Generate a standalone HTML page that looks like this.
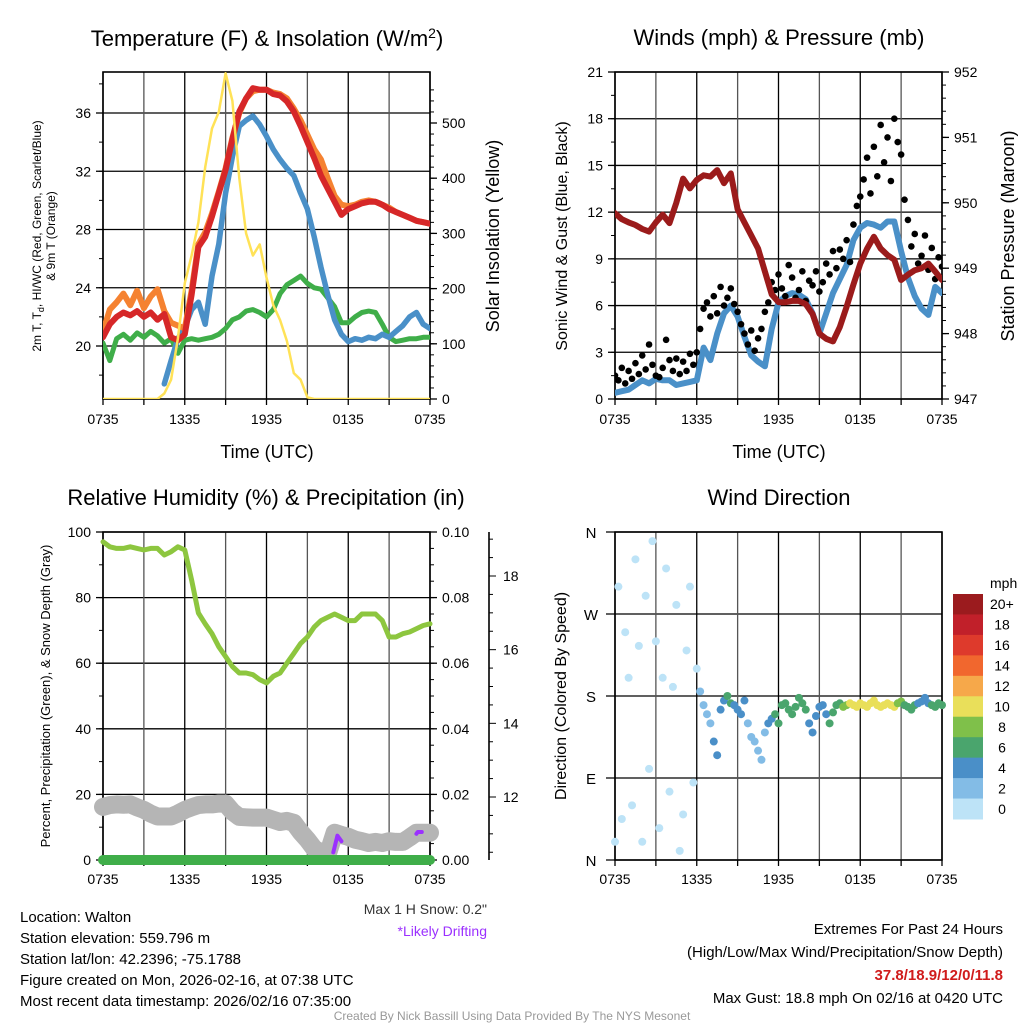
<!DOCTYPE html>
<html><head><meta charset="utf-8"><style>
html,body{margin:0;padding:0;background:#fff;}
svg{display:block;font-family:"Liberation Sans",Arial,sans-serif;}
</style></head><body>
<svg id="fig" width="1024" height="1024" viewBox="0 0 1024 1024" xmlns="http://www.w3.org/2000/svg">
<rect width="1024" height="1024" fill="#fff"/>
<g id="p1"></g>
<g id="p2"></g>
<g id="p3"></g>
<g id="p4"></g>
<text x="267" y="46" font-size="22" text-anchor="middle">Temperature (F) &amp; Insolation (W/m<tspan dy="-8" font-size="14">2</tspan><tspan dy="8">)</tspan></text>
<text x="779" y="45" font-size="22" text-anchor="middle">Winds (mph) &amp; Pressure (mb)</text>
<text x="266" y="505" font-size="22" text-anchor="middle">Relative Humidity (%) &amp; Precipitation (in)</text>
<text x="779" y="505" font-size="22" text-anchor="middle">Wind Direction</text>
<text transform="translate(41,236) rotate(-90)" font-size="12" text-anchor="middle">2m T, T<tspan font-size="9" dy="3">d</tspan><tspan dy="-3">, HI/WC (Red, Green, Scarlet/Blue)</tspan></text>
<text transform="translate(55,236) rotate(-90)" font-size="12" text-anchor="middle">&amp; 9m T (Orange)</text>
<text transform="translate(499,236) rotate(-90)" font-size="18" text-anchor="middle">Solar Insolation (Yellow)</text>
<text x="267" y="458" font-size="18" text-anchor="middle">Time (UTC)</text>
<text transform="translate(567,236) rotate(-90)" font-size="16" text-anchor="middle">Sonic Wind &amp; Gust (Blue, Black)</text>
<text transform="translate(1014,236) rotate(-90)" font-size="18" text-anchor="middle">Station Pressure (Maroon)</text>
<text x="779" y="458" font-size="18" text-anchor="middle">Time (UTC)</text>
<text transform="translate(50,696) rotate(-90)" font-size="13" text-anchor="middle">Percent, Precipitation (Green), &amp; Snow Depth (Gray)</text>
<text transform="translate(566,696) rotate(-90)" font-size="16" text-anchor="middle">Direction (Colored By Speed)</text>
<text x="487" y="914" font-size="14" text-anchor="end" fill="#333">Max 1 H Snow: 0.2"</text>
<text x="487" y="936" font-size="14" text-anchor="end" fill="#9b30ff">*Likely Drifting</text>
<g font-size="15">
<text x="20" y="922">Location: Walton</text>
<text x="20" y="943">Station elevation: 559.796 m</text>
<text x="20" y="964">Station lat/lon: 42.2396; -75.1788</text>
<text x="20" y="985">Figure created on Mon, 2026-02-16, at 07:38 UTC</text>
<text x="20" y="1006">Most recent data timestamp: 2026/02/16 07:35:00</text>
</g>
<g font-size="15" text-anchor="end">
<text x="1003" y="934">Extremes For Past 24 Hours</text>
<text x="1003" y="957">(High/Low/Max Wind/Precipitation/Snow Depth)</text>
<text x="1003" y="980" fill="#d01c1c" font-weight="bold">37.8/18.9/12/0/11.8</text>
<text x="1003" y="1003">Max Gust: 18.8 mph On 02/16 at 0420 UTC</text>
</g>
<text x="512" y="1020" font-size="12" text-anchor="middle" fill="#999">Created By Nick Bassill Using Data Provided By The NYS Mesonet</text>
</svg>
<script>
// ---- data (half-hour steps from 0735 UTC unless noted) ----
const xTickLabels = ["0735","1335","1935","0135","0735"];
const tempRed = [20.6,21.5,22,22.3,22.1,22.4,22,22.3,21.8,22.2,20.6,20.4,20.8,23.5,26.8,27.5,28.9,30.5,32.1,34.2,36.1,37,37.7,37.6,37.6,37.3,37.2,36.8,36.1,35.1,34,32.9,31.7,30.8,29.9,29,29.4,29.6,29.8,29.9,29.9,29.7,29.4,29.2,29,28.8,28.6,28.5,28.4];
const tempOrange = [21,22.5,23,23.6,22.8,23.8,22.6,23.4,23.9,22.4,21.6,21.4,21.2,23.8,27,27.8,29.1,30.6,32.2,34.3,36,37,37.5,37.6,37.6,37.4,37.3,37,36.3,35.5,34.5,33.5,32.8,31.5,30.3,29.7,29.6,29.7,29.9,30,29.9,29.7,29.5,29.2,29,28.8,28.6,28.5,28.4];
const tempBlue = [null,null,null,null,null,null,null,null,null,17.4,19,20.5,21.3,22.5,23,21.5,24.8,27,30.5,33,35.1,35.5,35.8,35.2,34.4,33.5,32.8,32.2,31.7,30.5,29.4,27.5,25.4,23.5,21.8,20.8,20.3,20.5,20.4,20.6,20.5,20.8,20.6,21,21.4,22,22.3,21.5,21.2];
const tempGreen = [20.2,19,20.5,20.8,20.4,20.9,20.6,21,20.7,20.2,20.5,19.5,20.4,20.5,20.4,20.5,20.6,20.8,21.2,21.8,22,22.4,22.5,22.3,22,22.5,23.6,24.2,24.5,24.8,24.3,24,23.9,23.3,22.7,21.6,21.6,22,22.3,22.4,22.3,21.5,20.6,20.3,20.4,20.5,20.5,20.6,20.6];
const solar = [0,0,0,0,0,0,0,0,0,10,35,110,210,260,320,420,490,520,590,540,400,300,260,280,220,170,143,105,47,35,3,0,0,0,0,0,0,0,0,0,0,0,0,0,0,0,0,0,0];
const pressure = [949.84,949.75,949.7,949.66,949.6,949.56,949.7,949.82,949.69,950.0,950.37,950.22,950.35,950.42,950.4,950.5,950.3,950.45,949.9,949.7,949.5,949.3,948.95,948.6,948.48,948.48,948.5,948.5,948.45,948.3,948.0,947.92,947.88,948.1,948.41,948.75,949.07,949.3,949.48,949.3,949.2,949.13,948.82,948.9,948.97,949.0,949.07,948.95,948.82];
const windSpd = [0.4,0.5,0.6,0.9,1.2,1.0,1.3,1.2,1.2,0.9,1.0,1.1,1.2,3.3,2.5,4.2,5.5,6.0,5.3,4.0,2.8,2.4,2.1,4.5,6.2,6.6,6.8,6.7,6.4,5.5,4.2,5.5,6.8,7.7,8.6,10.2,11,11.3,11.2,11,11.4,11.4,9.5,7.8,6.6,5.8,5.4,7.2,6.8];
// gust: quarter-hour steps
const gust = [1.5,1.2,2.0,1.0,1.8,1.3,2.3,1.6,2.8,1.9,3.5,2.2,1.5,1.4,2.0,3.8,2.5,1.8,2.6,1.6,2.4,1.8,2.9,2.2,3.0,4.5,5.8,6.2,5.3,6.6,5.5,7.2,6.0,6.5,7.1,6.1,5.6,4.8,4.2,3.5,4.4,3.1,3.9,4.5,5.6,6.2,7.5,7.0,8.0,7.1,6.6,8.6,7.8,6.5,7.0,8.2,6.3,7.6,7.3,8.2,6.9,7.5,8.7,8.0,9.5,8.4,9.6,9.0,10.2,8.8,11.2,12.4,13.0,14.1,15.5,13.2,16.2,14.3,17.6,15.2,16.8,14.0,18.0,16.5,15.7,12.8,11.5,9.8,10.6,8.7,9.2,10.5,8.3,9.7,7.7,9.1,8.5];
const rh = [97,95.5,95,95,95.5,95,94.5,95,95,93,94,95.5,94.5,85.4,75.3,72,69,65,62,59,57,57,56.5,55,54,56,57,60,63,66,68,71,73,74,75,74,73,73,75,75,75,73,68,68,69,69.5,70.5,71.5,72];
const snowDepth = [11.73,11.78,11.8,11.79,11.8,11.72,11.65,11.55,11.47,11.47,11.47,11.55,11.65,11.72,11.78,11.8,11.8,11.82,11.82,11.6,11.46,11.45,11.44,11.44,11.44,11.38,11.32,11.35,11.3,11.05,10.84,10.6,10.5,10.45,11.03,10.97,10.92,10.84,10.8,10.75,10.78,10.75,10.8,10.78,10.78,10.9,11.03,11.03,11.03];
const precip = [0,0,0,0,0,0,0,0,0,0,0,0,0,0,0,0,0,0,0,0,0,0,0,0,0,0,0,0,0,0,0,0,0,0,0,0,0,0,0,0,0,0,0,0,0,0,0,0,0];
const driftHours = [[16.9,17.2,17.5],[23.0,23.1,23.4]];
const driftVals = [[10.5,10.95,10.8],[11.0,11.05,11.05]];
// direction: quarter-hour steps (degrees)
const windDir = [20,300,45,250,200,60,330,235,20,290,100,350,240,35,200,320,75,190,280,10,50,230,300,85,210,
185,170,160,150,130,115,165,175,180,172,170,165,160,175,150,135,130,120,110,140,150,155,160,150,
170,172,165,160,168,178,172,165,150,140,158,168,170,160,150,162,170,172,168,170,172,170,168,172,
170,168,172,175,170,168,170,172,170,168,172,174,170,168,165,170,172,174,178,172,170,168,172,170];
const cbLabels = ["20+","18","16","14","12","10","8","6","4","2","0"];
const cbColors = ["#9b1b1e","#c1202a","#de3a2c","#f1672e","#f6a84a","#e9df5a","#7fc04a","#4aa56d","#4a8fc8","#83bce6","#bde3f7"];

const NS="http://www.w3.org/2000/svg";
function mk(parent,tag,attrs){const e=document.createElementNS(NS,tag);for(const k in attrs)e.setAttribute(k,attrs[k]);parent.appendChild(e);return e;}
function lin(d0,d1,r0,r1){return v=>r0+(v-d0)*(r1-r0)/(d1-d0);}
function linePath(xs,ys,xf,yf){let d="",pen=false;for(let i=0;i<ys.length;i++){if(ys[i]===null||ys[i]===undefined){pen=false;continue;}d+=(pen?"L":"M")+xf(xs[i]).toFixed(1)+","+yf(ys[i]).toFixed(1);pen=true;}return d;}
const halfH = tempRed.map((_,i)=>i*0.5);

function frame(g,X0,X1,Y0,Y1,xf,labelY){
  for(let h=0;h<=24;h+=3){const x=xf(h);
    const gl=mk(g,"line",{x1:x,x2:x,y1:Y0,y2:Y1,stroke:(h%6===0)?"#000":"#555","stroke-width":1.3});
    
    mk(g,"line",{x1:x,x2:x,y1:Y1,y2:Y1+6,stroke:"#000","stroke-width":1.3});
    if(h%6===0){const t=mk(g,"text",{x:x,y:labelY,"font-size":14,"text-anchor":"middle"});t.textContent=xTickLabels[h/6];
      }
  }
  const b=mk(g,"rect",{x:X0,y:Y0,width:X1-X0,height:Y1-Y0,fill:"none",stroke:"#000","stroke-width":1.6});
  
}
function yAxis(g,vals,yf,x,side,fmt,grid,X0,X1,minor){
  if(minor){for(const v of minor){mk(g,"line",{x1:x,x2:x+side*4,y1:yf(v),y2:yf(v),stroke:"#000","stroke-width":1});}}
  for(const v of vals){const y=yf(v);
    if(grid){const gl=mk(g,"line",{x1:X0,x2:X1,y1:y,y2:y,stroke:"#000","stroke-width":1.3});}
    mk(g,"line",{x1:x,x2:x+side*7,y1:y,y2:y,stroke:"#000","stroke-width":1.3});
    const t=mk(g,"text",{x:x+side*12,y:y+5,"font-size":14,"text-anchor":side<0?"end":"start"});t.textContent=fmt(v);
    }
}
function range(a,b,s){const r=[];for(let v=a;v<=b+1e-9;v+=s)r.push(+v.toFixed(4));return r;}

// ---- Panel 1 ----
(function(){
  const g=document.getElementById('p1');const X0=103,X1=430,Y0=72,Y1=399;
  const xf=lin(0,24,X0,X1), yT=lin(20,36,346,113), yS=lin(0,500,399,123);
  yAxis(g,[20,24,28,32,36],yT,X0,-1,v=>v,true,X0,X1,range(18,38,2));
  yAxis(g,[0,100,200,300,400,500],yS,X1,1,v=>v,false,X0,X1,range(0,560,20));
  frame(g,X0,X1,Y0,Y1,xf,424);
  const clip=mk(g,"clipPath",{id:"c1"});mk(clip,"rect",{x:X0,y:Y0,width:X1-X0,height:Y1-Y0});
  const pg=mk(g,"g",{"clip-path":"url(#c1)","stroke-linejoin":"round","stroke-linecap":"round",fill:"none"});
  const s=[[tempGreen,"#3fae49",5,'dewpoint-line'],[tempBlue,"#4a90c8",5.5,'windchill-line'],[tempOrange,"#f58231",6,'temp-9m-line'],[tempRed,"#d62728",6,'temp-2m-line']];
  for(const [arr,c,w,n] of s){const p=mk(pg,"path",{d:linePath(halfH,arr,xf,yT),stroke:c,"stroke-width":w});}
  const sp=mk(pg,"path",{d:linePath(halfH,solar,xf,yS),stroke:"#ffe257","stroke-width":2.5});
  
})();
// ---- Panel 2 ----
(function(){
  const g=document.getElementById('p2');const X0=615,X1=942,Y0=72,Y1=399;
  const xf=lin(0,24,X0,X1), yW=lin(0,21,399,72), yP=lin(947,952,399,72);
  yAxis(g,range(0,21,3),yW,X0,-1,v=>v,true,X0,X1,range(0,21,1.5));
  yAxis(g,range(947,952,1),yP,X1,1,v=>v,false,X0,X1,range(947,952,0.2));
  frame(g,X0,X1,Y0,Y1,xf,424);
  const clip=mk(g,"clipPath",{id:"c2"});mk(clip,"rect",{x:X0,y:Y0,width:X1-X0,height:Y1-Y0});
  const pg=mk(g,"g",{"clip-path":"url(#c2)","stroke-linejoin":"round","stroke-linecap":"round",fill:"none"});
  const w=mk(pg,"path",{d:linePath(halfH,windSpd,xf,yW),stroke:"#4a90c8","stroke-width":6});
  
  gust.forEach((v,i)=>{const c=mk(pg,"circle",{cx:xf(i*0.25),cy:yW(v),r:3.3,fill:"#000"});
    });
  const p=mk(pg,"path",{d:linePath(halfH,pressure,xf,yP),stroke:"#9b1b1b","stroke-width":6});
  
})();
// ---- Panel 3 ----
(function(){
  const g=document.getElementById('p3');const X0=103,X1=430,Y0=532,Y1=860;
  const xf=lin(0,24,X0,X1), yR=lin(0,100,860,532), yPr=lin(0,0.1,860,532), ySn=lin(12,18,797,576);
  yAxis(g,range(0,100,20),yR,X0,-1,v=>v,true,X0,X1,range(0,100,10));
  yAxis(g,range(0,0.1,0.02),yPr,X1,1,v=>v.toFixed(2),false,X0,X1,range(0,0.1,0.005));
  const ax=mk(g,"line",{x1:489,x2:489,y1:532,y2:860,stroke:"#000","stroke-width":1.6});
  
  for(const v of range(10.5,19,0.5)){const y=ySn(v);if(y<532||y>860)continue;mk(g,"line",{x1:489,x2:(v%2===0)?496:493,y1:y,y2:y,stroke:"#000","stroke-width":1});}
  for(const v of [12,14,16,18]){const t=mk(g,"text",{x:503,y:ySn(v)+5,"font-size":14});t.textContent=v;}
  frame(g,X0,X1,Y0,Y1,xf,884);
  const pg=mk(g,"g",{"stroke-linejoin":"round","stroke-linecap":"round",fill:"none"});
  const sd=mk(pg,"path",{d:linePath(halfH,snowDepth,xf,ySn),stroke:"#b5b5b5","stroke-width":18});
  
  const r=mk(pg,"path",{d:linePath(halfH,rh,xf,yR),stroke:"#8dc63f","stroke-width":5});
  
  const pr=mk(pg,"path",{d:linePath(halfH,precip,xf,yPr),stroke:"#3fae49","stroke-width":10});
  
  driftHours.forEach((hs,k)=>{const d=mk(pg,"path",{d:linePath(hs,driftVals[k],xf,ySn),stroke:"#9b30ff","stroke-width":4});
    });
})();
// ---- Panel 4 ----
(function(){
  const g=document.getElementById('p4');const X0=615,X1=942,Y0=532,Y1=860;
  const xf=lin(0,24,X0,X1), yD=lin(0,360,860,532);
  const dl=["N","E","S","W","N"];
  [0,90,180,270,360].forEach((v,i)=>{const y=yD(v);
    const gl=mk(g,"line",{x1:X0-9,x2:X1,y1:y,y2:y,stroke:"#000","stroke-width":1.3});
    const t=mk(g,"text",{x:591,y:y+6,"font-size":15,"text-anchor":"middle"});t.textContent=dl[i];});
  frame(g,X0,X1,Y0,Y1,xf,884);
  function colorFor(s){const idx=Math.min(10,Math.floor(s/2));return cbColors[10-idx];}
  windDir.forEach((d,i)=>{const h=i*0.25;const j=Math.min(windSpd.length-1,Math.round(h*2));
    const c=mk(g,"circle",{cx:xf(h),cy:yD(d),r:4,fill:colorFor(windSpd[j])});
    });
  const t=mk(g,"text",{x:990,y:588,"font-size":14});t.textContent="mph";
  const bh=(819-594)/cbColors.length;
  cbColors.forEach((c,i)=>{const r=mk(g,"rect",{x:953,y:594+i*bh,width:30,height:bh+0.5,fill:c});
    
    const l=mk(g,"text",{x:i===0?990:1002,y:594+i*bh+bh/2+5,"font-size":14,"text-anchor":i===0?"start":"middle"});l.textContent=cbLabels[i];
    });
})();
</script>
</body></html>
